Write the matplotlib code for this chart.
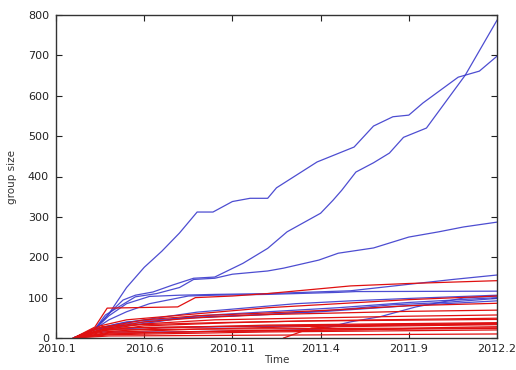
import matplotlib
matplotlib.use("Agg")
import matplotlib.pyplot as plt

# Months since 2010.1 and group sizes at each recorded point
tick_months = [0, 5, 10, 15, 20, 25]
tick_labels = ["2010.1", "2010.6", "2010.11", "2011.4", "2011.9", "2012.2"]
y_ticks = [0, 100, 200, 300, 400, 500, 600, 700, 800]

blue_months = [
    [1.0, 2.2, 3.0, 4.0, 5.0, 6.0, 7.0, 8.0, 8.9, 10.0, 11.0, 12.0, 12.5, 14.8, 16.9, 18.0, 19.1, 20.0, 20.8, 22.8, 24.0, 25.0],
    [1.0, 2.2, 3.2, 3.8, 4.5, 5.5, 6.6, 7.8, 9.0, 10.6, 12.0, 13.1, 15.0, 15.7, 16.2, 17.0, 18.0, 18.9, 19.7, 21.0, 23.2, 25.0],
    [1.0, 2.2, 2.8, 4.5, 5.7, 7.0, 7.8, 9.0, 10.0, 12.0, 12.9, 14.9, 16.0, 18.0, 20.0, 21.7, 23.1, 25.0],
    [1.0, 2.2, 3.0, 4.0, 5.3, 7.0, 9.0, 12.0, 16.7, 20.0, 22.5, 25.0],
    [1.0, 2.2, 3.0, 4.0, 5.3, 7.5, 9.0, 12.0, 16.0, 17.0, 25.0],
    [1.0, 2.2, 3.5, 5.0, 8.0, 13.6, 16.7, 20.0, 25.0],
    [1.0, 2.2, 4.0, 6.0, 8.0, 12.0, 16.0, 20.0, 25.0],
    [1.0, 2.2, 6.0, 12.0, 15.0, 16.7, 18.4, 20.4, 23.1, 25.0],
    [1.0, 2.2, 4.0, 7.0, 10.0, 15.0, 20.0, 25.0],
    [1.0, 2.2, 5.0, 10.0, 15.0, 20.0, 25.0],
    [1.0, 2.2, 4.0, 8.0, 12.0, 16.0, 19.0, 22.0, 25.0],
]
blue_sizes = [
    [0, 22, 60, 125, 175, 215, 260, 312, 312, 338, 346, 346, 372, 436, 473, 525, 548, 552, 582, 646, 661, 698],
    [0, 22, 69, 94, 106, 114, 131, 148, 151, 185, 222, 263, 309, 341, 366, 411, 434, 458, 497, 520, 651, 787],
    [0, 22, 57, 102, 110, 125, 145, 148, 158, 166, 173, 193, 210, 223, 250, 263, 275, 287],
    [0, 22, 55, 85, 103, 106, 108, 110, 117, 133, 145, 156],
    [0, 22, 45, 65, 85, 104, 106, 108, 113, 115, 116],
    [0, 22, 35, 45, 64, 85, 92, 98, 106],
    [0, 22, 30, 42, 55, 65, 75, 88, 100],
    [0, 15, 15, 18, 22, 40, 53, 77, 99, 104],
    [0, 22, 35, 48, 55, 65, 80, 92],
    [0, 20, 25, 28, 30, 32, 35],
    [0, 22, 40, 52, 58, 70, 82, 88, 98],
]

red_months = [
    [1.0, 2.2, 2.9, 6.9, 7.9, 10.0, 12.0, 16.7, 20.0, 25.0],
    [1.0, 2.5, 4.0, 8.0, 12.0, 16.0, 20.0, 25.0],
    [1.0, 2.5, 5.0, 8.0, 12.0, 16.0, 20.0, 25.0],
    [1.0, 2.6, 5.0, 8.0, 12.0, 16.0, 20.0, 25.0],
    [1.0, 2.6, 5.0, 9.0, 15.0, 20.0, 25.0],
    [1.0, 2.7, 5.0, 10.0, 15.0, 25.0],
    [1.0, 2.7, 6.0, 12.0, 25.0],
    [1.0, 3.0, 8.0, 16.0, 25.0],
    [1.0, 3.0, 10.0, 25.0],
    [1.0, 3.0, 12.0, 25.0],
    [1.0, 3.0, 25.0],
    [12.9, 14.5, 16.0, 25.0],
    [1.0, 2.6, 4.0, 9.0, 14.0, 25.0],
    [1.0, 2.8, 6.0, 12.0, 20.0, 25.0],
    [1.0, 2.8, 8.0, 18.0, 25.0],
    [1.0, 3.0, 9.0, 17.0, 22.0, 25.0],
]
red_sizes = [
    [0, 27, 74, 77, 100, 104, 110, 129, 135, 142],
    [0, 30, 45, 60, 75, 85, 95, 104],
    [0, 25, 45, 55, 62, 70, 80, 86],
    [0, 22, 40, 50, 58, 62, 66, 69],
    [0, 20, 35, 45, 50, 54, 57],
    [0, 18, 30, 38, 43, 49],
    [0, 15, 25, 32, 38],
    [0, 14, 22, 30, 35],
    [0, 10, 18, 24],
    [0, 8, 15, 20],
    [0, 5, 10],
    [0, 25, 28, 33],
    [0, 28, 32, 38, 42, 46],
    [0, 24, 27, 30, 34, 36],
    [0, 20, 22, 24, 25],
    [0, 12, 16, 20, 26, 28],
]

fig = plt.figure(figsize=(5.16, 3.70), dpi=100)
ax = fig.add_axes([56 / 516, 32 / 370, 441 / 516, 323 / 370])

for t, v in zip(blue_months, blue_sizes):
    ax.plot(t, v, color="#3a3acc", lw=0.9, alpha=0.9)
for t, v in zip(red_months, red_sizes):
    ax.plot(t, v, color="#e01010", lw=0.9)

ax.set_xlim(0, 25)
ax.set_ylim(0, 800)
ax.set_xticks(tick_months)
ax.set_xticklabels(tick_labels)
ax.set_yticks(y_ticks)

ax.tick_params(direction="in", length=4, width=0.8, top=True, right=True,
               labelsize=8, colors="#222222", labelcolor="#222222")
ax.tick_params(axis="x", pad=4)
ax.tick_params(axis="y", pad=5)
for s in ax.spines.values():
    s.set_color("#333333")
    s.set_linewidth(1.0)

ax.set_xlabel("Time", fontsize=7.5, color="#333333", labelpad=1)
ax.set_ylabel("group size", fontsize=7.5, color="#333333", labelpad=8)

fig.savefig("out.png", dpi=100)
